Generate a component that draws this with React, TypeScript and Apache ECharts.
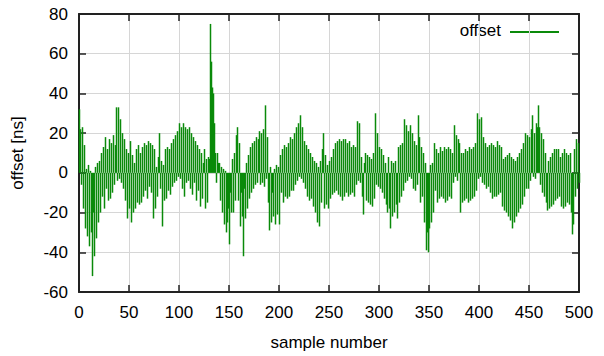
import React, { useEffect, useRef } from "react";
import * as echarts from "echarts";

const offsetValues: number[] = [
  32, 22, -6, 23, -18, 14, -28, 2, -32, 4,
  -37, 1, -30, -52, -20, -42, 3, -33, 5, -25,
  6, -20, 10, -12, 13, -18, 18, -8, 12, -14,
  17, -13, 15, -10, 19, -6, 14, 33, -4, 33,
  -3, 27, -5, 20, -8, 17, -14, 12, -23, 10,
  -18, 16, -25, 9, -20, 5, -18, 12, -15, 14,
  -16, 10, -15, 13, -12, 15, -9, 14, -13, 16,
  -7, 15, -10, 14, -23, 12, -18, 3, -12, 8,
  20, -8, 6, -27, 4, -14, 12, -13, 13, -9,
  12, -11, 15, -7, 17, -5, 19, -4, 21, -2,
  25, -3, 23, -8, 25, -12, 23, -5, 22, -4,
  23, -8, 20, -11, 18, -5, 16, -14, 14, -9,
  12, -17, 10, -13, 5, 12, -18, 7, -15, 8,
  7, 75, 56, 43, 40, 25, 10, -5, 10, 5,
  5, -14, 3, -20, 2, -26, 1, -30, -25, -18,
  -36, -10, -20, 7, -20, 10, -14, 19, 23, -14,
  15, -27, -10, -22, -42, -8, -23, 5, -18, 9,
  -13, 13, -10, 15, -8, 16, -6, 18, -5, 17,
  21, -6, 20, -5, 22, -7, 34, -3, 18, -15,
  -29, 3, -25, -10, -22, 2, -26, 4, -21, 3,
  -26, 9, -10, 12, -15, 14, -12, 13, -13, 15,
  -12, 18, -9, 17, -9, 20, -6, 23, -4, 25,
  -2, 29, -3, 23, -5, 16, -8, 14, -12, 12,
  -14, 10, -13, 8, -17, 6, -20, 5, -25, 3,
  -27, 6, -15, 12, 20, -18, 9, -16, 4, -18,
  6, -13, 8, -11, 12, -10, 15, -9, 16, -11,
  17, -12, 16, -14, 17, -12, 17, -10, 15, -12,
  16, -11, 13, -10, 14, -12, 13, -6, 26, -4,
  25, -5, 8, -12, -21, 5, 10, -14, 9, -15,
  8, -16, 7, -17, 10, -13, 30, -6, 20, -7,
  13, -8, 12, -10, 9, -13, 5, -16, -20, 8,
  -18, -28, 6, -22, 5, -20, 6, -16, -23, 13,
  -15, 14, -12, 15, -9, 27, -5, 24, -4, 21,
  -2, 24, -3, 20, -8, 16, -9, 14, -6, 29,
  18, -15, 13, -12, 10, -25, 5, -39, -30, -40,
  -28, 4, -25, 5, -20, 15, -9, 12, -15, 10,
  -13, 13, -12, 11, -13, 13, -15, 12, -14, 13,
  -12, 12, -13, 10, -5, 24, -2, 19, -4, 17,
  15, -20, 10, -15, 10, -14, 12, -13, 11, -15,
  13, -14, 12, -13, 13, -12, 15, -9, 30, -3,
  27, -2, 28, -5, 18, -6, 15, -8, 13, -7,
  14, -10, 15, -13, 14, -12, 13, -12, 16, -11,
  14, -10, 13, -17, 7, -19, 8, -20, 9, -22,
  10, -24, 8, -28, 7, -25, 6, -22, 8, -20,
  10, -18, 12, -16, 15, -12, 20, -8, 19, -8,
  18, -4, 22, 29, -2, 20, -3, 25, 23, 34,
  23, -6, 20, -10, 17, -12, 10, -15, -19, 6,
  -18, 8, -17, 10, -16, 12, -14, 12, -13, 12,
  -12, 8, -17, 10, -18, 12, -17, 10, -15, 9,
  -16, 10, -20, -31, -26, 12, -12, 17, -8, 15,
  -5,
];

const xTicks = { min: 0, max: 500, interval: 50 };
const yTicks = { min: -60, max: 80, interval: 20 };
const seriesName = "offset";
const xTitle = "sample number";
const yTitle = "offset [ns]";

const GREEN = "#0a8a0a";
const FONT = "Liberation Sans, Arial, sans-serif";
const FRAME = "#222";

export default function App() {
  const ref = useRef<HTMLDivElement>(null);
  useEffect(() => {
    if (!ref.current) return;
    const chart = echarts.init(ref.current, undefined, { renderer: "svg" });
    const data = offsetValues.map((v, i) => [i, v]);
    const labelStyle = { color: "#000", fontSize: 17, fontFamily: FONT };
    const frameLine = { show: true, onZero: false, lineStyle: { color: FRAME, width: 2 } };
    const tick = { show: true, inside: true, length: 7, lineStyle: { color: FRAME, width: 1.5 } };
    const grid = { show: true, lineStyle: { color: "#d6d6d6", width: 1 } };
    chart.setOption({
      animation: false,
      backgroundColor: "#fff",
      grid: { left: 79, right: 25, top: 14, bottom: 63, show: false },
      xAxis: [
        {
          type: "value",
          min: xTicks.min,
          max: xTicks.max,
          interval: xTicks.interval,
          position: "bottom",
          name: xTitle,
          nameLocation: "middle",
          nameGap: 42,
          nameTextStyle: labelStyle,
          axisLine: frameLine,
          axisTick: tick,
          axisLabel: { ...labelStyle, margin: 12 },
          splitLine: grid,
        },
        {
          type: "value",
          min: xTicks.min,
          max: xTicks.max,
          interval: xTicks.interval,
          position: "top",
          axisLine: frameLine,
          axisTick: tick,
          axisLabel: { show: false },
          splitLine: { show: false },
        },
      ],
      yAxis: [
        {
          type: "value",
          min: yTicks.min,
          max: yTicks.max,
          interval: yTicks.interval,
          position: "left",
          name: yTitle,
          nameLocation: "middle",
          nameGap: 53,
          nameRotate: 90,
          nameTextStyle: labelStyle,
          axisLine: frameLine,
          axisTick: tick,
          axisLabel: { ...labelStyle, margin: 11 },
          splitLine: grid,
        },
        {
          type: "value",
          min: yTicks.min,
          max: yTicks.max,
          interval: yTicks.interval,
          position: "right",
          axisLine: frameLine,
          axisTick: tick,
          axisLabel: { show: false },
          splitLine: { show: false },
        },
      ],
      series: [
        {
          name: seriesName,
          type: "custom",
          xAxisIndex: 0,
          yAxisIndex: 0,
          data,
          renderItem: (params: any, api: any) => {
            const x = api.value(0);
            const y = api.value(1);
            const p0 = api.coord([x, 0]);
            const p1 = api.coord([x, y]);
            const px = Math.round(p0[0]) + 0.5;
            return {
              type: "line",
              shape: { x1: px, y1: p0[1], x2: px, y2: p1[1] },
              style: { stroke: GREEN, lineWidth: 1.5 },
            };
          },
          z: 1,
        },
      ],
      graphic: [
        {
          type: "text",
          right: 604 - 501,
          top: 22,
          style: { text: seriesName, fill: "#000", font: `17px ${FONT}` },
        },
        {
          type: "line",
          shape: { x1: 510, y1: 32, x2: 559, y2: 32 },
          style: { stroke: GREEN, lineWidth: 2 },
        },
      ],
    });
    return () => chart.dispose();
  }, []);
  return (
    <div
      ref={ref}
      style={{ position: "fixed", left: 0, top: 0, width: 604, height: 356 }}
    />
  );
}
